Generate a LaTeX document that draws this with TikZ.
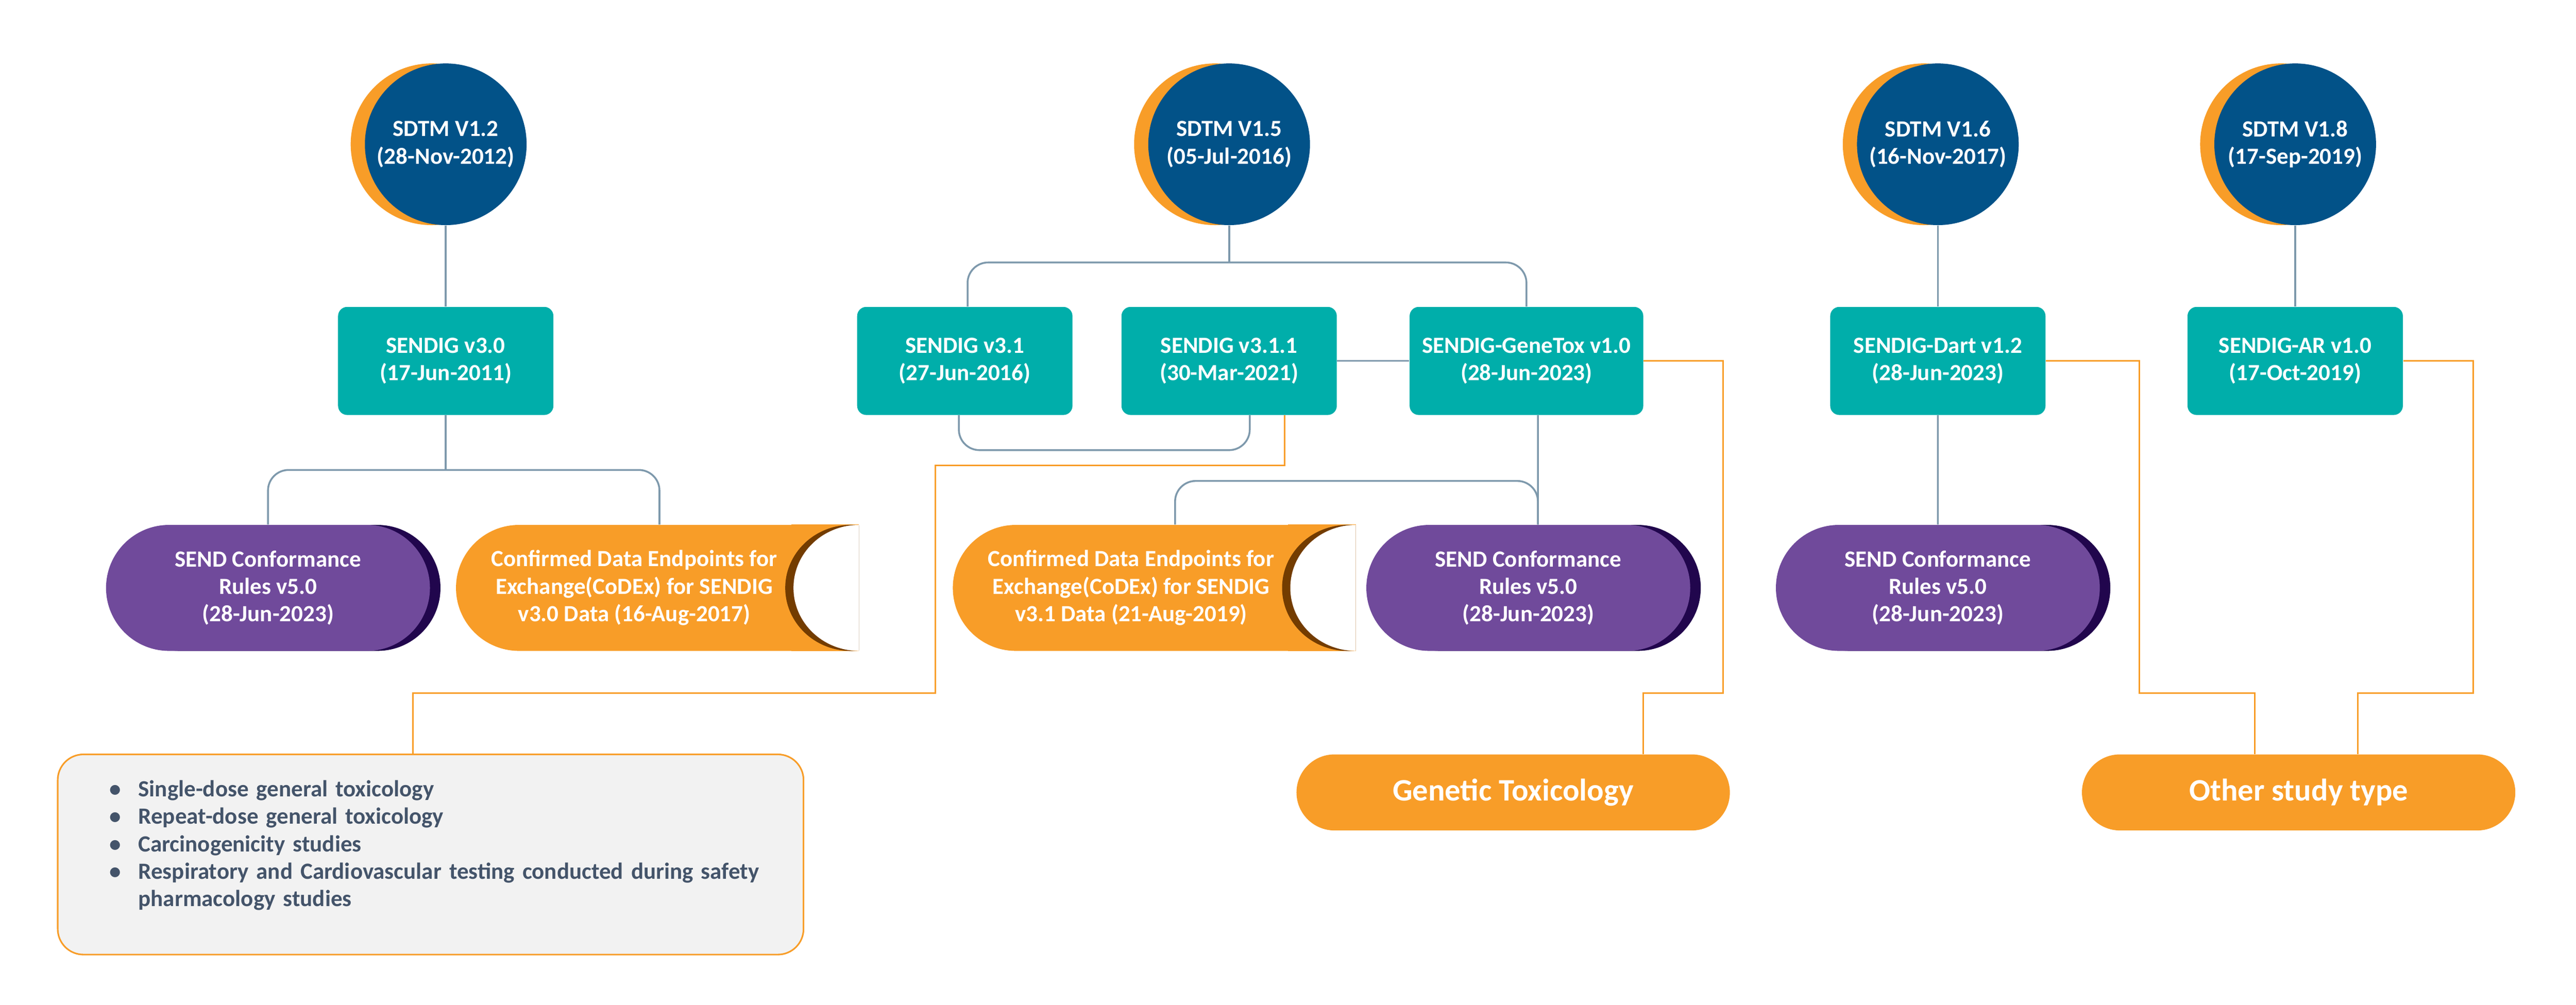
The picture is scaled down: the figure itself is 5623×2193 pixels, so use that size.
\documentclass[tikz,border=0pt]{standalone}
\usepackage{fontspec}
\setmainfont{Carlito}
\usetikzlibrary{shapes.misc,shadows}

\definecolor{sdtmnavy}{HTML}{025288}
\definecolor{sendorange}{HTML}{F89D28}
\definecolor{igteal}{HTML}{00AEAA}
\definecolor{rulepurple}{HTML}{704A9B}
\definecolor{ruleshade}{HTML}{21064D}
\definecolor{codexbrown}{HTML}{733C00}
\definecolor{linkgray}{HTML}{7E99AC}
\definecolor{listtext}{HTML}{44546A}
\definecolor{listfill}{HTML}{F2F2F2}

\newcommand\studyitem[1]{\raggedright\leftskip=4.9mm\hangindent=6.3mm\hangafter=1\noindent\makebox[6.3mm][l]{\textbullet}#1\par}

\tikzset{
	boxtext/.style={text=white, align=center, font=\bfseries\fontsize{14.4}{17.1}\selectfont},
	sdtm/.style={circle, fill=sdtmnavy, minimum size=35.3mm, inner sep=0pt, boxtext,
		general shadow={fill=sendorange, shadow xshift=-3.1mm}},
	igbox/.style={rectangle, rounded corners=2mm, fill=igteal, minimum width=47mm, minimum height=23.6mm, boxtext},
	rulepill/.style={rounded rectangle, fill=rulepurple, minimum width=70.7mm, minimum height=27.5mm, inner sep=0pt, boxtext,
		general shadow={fill=ruleshade, shadow xshift=2.3mm}},
	codexpill/.style={rounded rectangle, rounded rectangle right arc=none, fill=sendorange, minimum width=75.1mm, minimum height=27.5mm, inner sep=0pt, boxtext},
	typepill/.style={rounded rectangle, fill=sendorange, minimum width=94.6mm, minimum height=16.6mm, inner sep=0pt, text=white, font=\bfseries\fontsize{19.4}{22}\selectfont},
	studybox/.style={rectangle, rounded corners=5.6mm, draw=sendorange, line width=0.35mm, fill=listfill, minimum width=162.8mm, minimum height=43.7mm, text width=150mm, align=left, text=listtext, font=\bfseries\fontsize{14.4}{17.1}\selectfont},
	link/.style={draw=linkgray, line width=0.4mm},
	feed/.style={draw=sendorange, line width=0.35mm}
}

\begin{document}
\begin{tikzpicture}[x=0.1mm, y=-0.1mm]
	\useasboundingbox (0,0) rectangle (5623,2193);

	\node (c12) [sdtm] at (973,315) {SDTM V1.2\\(28-Nov-2012)};
	\node (c15) [sdtm] at (2683,315) {SDTM V1.5\\(05-Jul-2016)};
	\node (c16) [sdtm] at (4230,315) {SDTM V1.6\\(16-Nov-2017)};
	\node (c18) [sdtm] at (5010,315) {SDTM V1.8\\(17-Sep-2019)};

	\node (ig30) [igbox, below of=c12, node distance=47.3mm] {SENDIG v3.0\\(17-Jun-2011)};
	\node (ig311) [igbox, below of=c15, node distance=47.3mm] {SENDIG v3.1.1\\(30-Mar-2021)};
	\node (ig31) [igbox, left of=ig311, node distance=57.7mm] {SENDIG v3.1\\(27-Jun-2016)};
	\node (genetox) [igbox, right of=ig311, node distance=64.9mm, minimum width=51mm] {SENDIG-GeneTox v1.0\\(28-Jun-2023)};
	\node (dart) [igbox, below of=c16, node distance=47.3mm] {SENDIG-Dart v1.2\\(28-Jun-2023)};
	\node (ar) [igbox, below of=c18, node distance=47.3mm] {SENDIG-AR v1.0\\(17-Oct-2019)};

	\node (rules1) [rulepill] at (585,1283.5) {SEND Conformance\\Rules v5.0\\(28-Jun-2023)};
	\node (codex1) [codexpill] at (1384.5,1283.5) {Confirmed Data Endpoints for\\Exchange(CoDEx) for SENDIG\\v3.0 Data (16-Aug-2017)};
	\node (codex2) [codexpill] at (2469,1283.5) {Confirmed Data Endpoints for\\Exchange(CoDEx) for SENDIG\\v3.1 Data (21-Aug-2019)};
	\node (rules2) [rulepill] at (3336,1283.5) {SEND Conformance\\Rules v5.0\\(28-Jun-2023)};
	\node (rules3) [rulepill, below of=dart, node distance=49.55mm] {SEND Conformance\\Rules v5.0\\(28-Jun-2023)};

	\foreach \n in {codex1,codex2} {
		\fill[sendorange] ([xshift=-2mm]\n.north east) rectangle ([xshift=12.8mm]\n.south east);
		\begin{scope}
			\clip ([xshift=-4mm]\n.north east) rectangle ([xshift=12.8mm]\n.south east);
			\fill[codexbrown] ([xshift=11mm]\n.east) ellipse [x radius=14.3mm, y radius=13.75mm];
			\fill[white] ([xshift=12.8mm]\n.east) ellipse [x radius=14.3mm, y radius=13.75mm];
		\end{scope}
	}

	\node (studies) [studybox] at (940,1865.5) {%
		\studyitem{Single-dose general toxicology}
		\studyitem{Repeat-dose general toxicology}
		\studyitem{Carcinogenicity studies}
		\studyitem{Respiratory and Cardiovascular testing conducted during safety\newline pharmacology studies}
		\vspace{4mm}};
	\node (gentype) [typepill] at (3303,1730) {Genetic Toxicology};
	\node (other) [typepill] at (5017.5,1730) {Other study type};

	\coordinate (j30) at (973,1026);
	\coordinate (j15) at (2683,573);
	\coordinate (j20) at (3357,1050);

	\draw [link] (c12) to (ig30);
	\draw [link] (ig30) to (j30);
	\draw [link, rounded corners=4.5mm] (rules1.north) |- (j30) -| ([xshift=5.5mm]codex1.north);
	\draw [link] (c15) to (j15);
	\draw [link, rounded corners=4.5mm] ([xshift=0.6mm]ig31.north) |- (j15) -| (genetox.north);
	\draw [link] (ig311) to (genetox);
	\draw [link, rounded corners=4.5mm] ([xshift=-1.3mm]ig31.south) -- ++(0,76) -| ([xshift=4.5mm]ig311.south);
	\draw [link] ([xshift=2.5mm]genetox.south) to ([xshift=2.1mm]rules2.north);
	\draw [link, rounded corners=4.5mm] ([xshift=9.6mm]codex2.north) |- (j20) -- ([xshift=2.1mm]rules2.north);
	\draw [link] (c16) to (dart);
	\draw [link] (dart) to (rules3);
	\draw [link] (c18) to (ar);

	\draw [feed] ([xshift=12.1mm]ig311.south) -- ++(0,109) -| (2042,1513) -| ([xshift=-3.9mm]studies.north);
	\draw [feed] (genetox.east) -| (3761,1513) -| ([xshift=28.4mm]gentype.north);
	\draw [feed] (dart.east) -| (4670,1513) -| ([xshift=-9.55mm]other.north);
	\draw [feed] (ar.east) -| (5399,1513) -| ([xshift=12.95mm]other.north);
\end{tikzpicture}
\end{document}
